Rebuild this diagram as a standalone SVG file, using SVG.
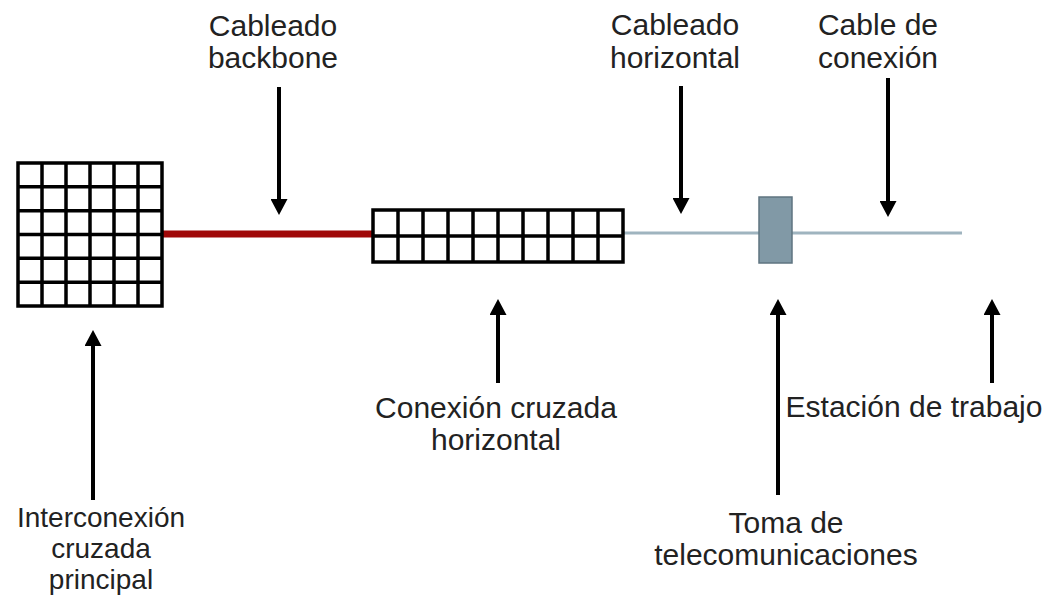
<svg xmlns="http://www.w3.org/2000/svg" width="1046" height="599" viewBox="0 0 1046 599">
<defs>
<style>
.lbl{font-family:"Liberation Sans",Arial,sans-serif;font-size:30px;fill:#222;text-anchor:middle}
.sm{font-size:28px}
.grid{fill:#fff;stroke:#000;stroke-width:3.5}
.gl{stroke:#000;stroke-width:3.5;fill:none}
.arr{stroke:#000;stroke-width:4;fill:none;marker-end:url(#ah)}
</style>
<marker id="ah" markerUnits="userSpaceOnUse" viewBox="0 0 16 17" markerWidth="16" markerHeight="17" refX="0" refY="8.5" orient="auto">
<path d="M0,0 L16,8.5 L0,17 Z" fill="#000"/>
</marker>
</defs>
<rect width="1046" height="599" fill="#fff"/>
<g id="connectors">
<line x1="162" y1="234" x2="373" y2="234" stroke="#a00808" stroke-width="7"/>
<line x1="623" y1="233" x2="962" y2="233" stroke="#9fb4bf" stroke-width="3"/>
<line class="arr" x1="279" y1="87" x2="279" y2="199"/>
<line class="arr" x1="681" y1="86" x2="681" y2="198"/>
<line class="arr" x1="888" y1="78" x2="888" y2="201"/>
<line class="arr" x1="93" y1="500" x2="93" y2="346"/>
<line class="arr" x1="498" y1="383" x2="498" y2="315"/>
<line class="arr" x1="778" y1="495" x2="778" y2="315"/>
<line class="arr" x1="992" y1="383" x2="992" y2="315"/>
</g>
<g id="main-cross-connect">
<rect class="grid" x="18" y="163" width="144" height="143"/>
<path class="gl" d="M42,163V306M66,163V306M90,163V306M114,163V306M138,163V306M18,186.8H162M18,210.7H162M18,234.5H162M18,258.3H162M18,282.2H162"/>
<text class="lbl sm" x="101" y="527">Interconexión</text>
<text class="lbl sm" x="101" y="558">cruzada</text>
<text class="lbl sm" x="101" y="589">principal</text>
</g>
<g id="horizontal-cross-connect">
<rect class="grid" x="373" y="210" width="250" height="52"/>
<path class="gl" d="M398,210V262M423,210V262M448,210V262M473,210V262M498,210V262M523,210V262M548,210V262M573,210V262M598,210V262M373,236H623"/>
<text class="lbl" x="496" y="418">Conexión cruzada</text>
<text class="lbl" x="496" y="450">horizontal</text>
</g>
<g id="telecom-outlet">
<rect x="759" y="197" width="33" height="66" fill="#8199a6" stroke="#5f7480" stroke-width="1.5"/>
<text class="lbl" x="786" y="533">Toma de</text>
<text class="lbl" x="786" y="565">telecomunicaciones</text>
</g>
<g id="backbone-label">
<text class="lbl" x="273" y="36">Cableado</text>
<text class="lbl" x="273" y="68">backbone</text>
</g>
<g id="horizontal-cabling-label">
<text class="lbl" x="675" y="35">Cableado</text>
<text class="lbl" x="675" y="68">horizontal</text>
</g>
<g id="patch-cable-label">
<text class="lbl" x="878" y="35">Cable de</text>
<text class="lbl" x="878" y="68">conexión</text>
</g>
<g id="workstation">
<text class="lbl" x="914" y="417">Estación de trabajo</text>
</g>
</svg>
